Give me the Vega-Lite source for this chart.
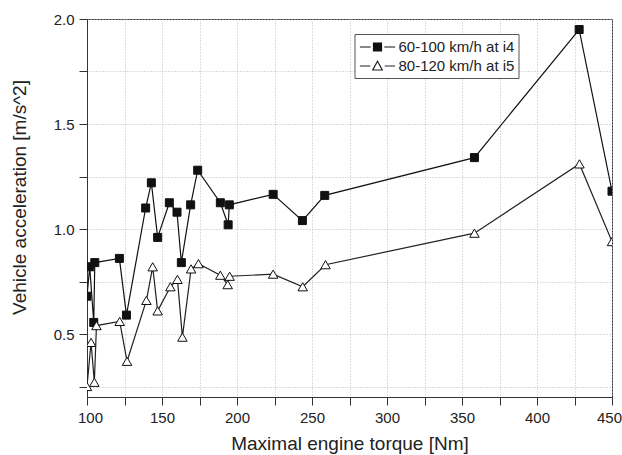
{
  "$schema": "https://vega.github.io/schema/vega-lite/v6.json",
  "width": 525,
  "height": 378,
  "autosize": {"type": "none"},
  "padding": {"left": 87, "top": 19, "right": 10, "bottom": 58},
  "background": "white",
  "config": {
    "font": "Liberation Sans",
    "view": {"stroke": "#333", "strokeWidth": 1},
    "axis": {
      "domainColor": "#333",
      "tickColor": "#333",
      "labelColor": "#222",
      "titleColor": "#222",
      "labelFont": "Liberation Sans",
      "titleFont": "Liberation Sans",
      "labelFontSize": 15,
      "titleFontSize": 19,
      "titleFontWeight": "normal",
      "gridColor": "#bbb",
      "gridDash": [1, 2],
      "gridWidth": 1,
      "tickSize": 8,
      "labelPadding": 5,
      "labelFlush": false
    }
  },
  "data": {
    "values": [
      {"series": "60-100 km/h at i4", "torque": 100, "accel": 0.68},
      {"series": "60-100 km/h at i4", "torque": 101.8, "accel": 0.82},
      {"series": "60-100 km/h at i4", "torque": 104.5, "accel": 0.555},
      {"series": "60-100 km/h at i4", "torque": 105.2, "accel": 0.84},
      {"series": "60-100 km/h at i4", "torque": 121.6, "accel": 0.86},
      {"series": "60-100 km/h at i4", "torque": 126.3, "accel": 0.59},
      {"series": "60-100 km/h at i4", "torque": 139.1, "accel": 1.10},
      {"series": "60-100 km/h at i4", "torque": 142.9, "accel": 1.22},
      {"series": "60-100 km/h at i4", "torque": 147.1, "accel": 0.96},
      {"series": "60-100 km/h at i4", "torque": 154.9, "accel": 1.125},
      {"series": "60-100 km/h at i4", "torque": 160.0, "accel": 1.08},
      {"series": "60-100 km/h at i4", "torque": 162.9, "accel": 0.84},
      {"series": "60-100 km/h at i4", "torque": 169.1, "accel": 1.115},
      {"series": "60-100 km/h at i4", "torque": 173.8, "accel": 1.28},
      {"series": "60-100 km/h at i4", "torque": 188.9, "accel": 1.125},
      {"series": "60-100 km/h at i4", "torque": 194.1, "accel": 1.02},
      {"series": "60-100 km/h at i4", "torque": 194.9, "accel": 1.115},
      {"series": "60-100 km/h at i4", "torque": 224.1, "accel": 1.165},
      {"series": "60-100 km/h at i4", "torque": 243.6, "accel": 1.04},
      {"series": "60-100 km/h at i4", "torque": 258.5, "accel": 1.16},
      {"series": "60-100 km/h at i4", "torque": 358.3, "accel": 1.34},
      {"series": "60-100 km/h at i4", "torque": 428.1, "accel": 1.95},
      {"series": "60-100 km/h at i4", "torque": 450, "accel": 1.18},
      {"series": "80-120 km/h at i5", "torque": 100, "accel": 0.25},
      {"series": "80-120 km/h at i5", "torque": 102.7, "accel": 0.46},
      {"series": "80-120 km/h at i5", "torque": 104.9, "accel": 0.27},
      {"series": "80-120 km/h at i5", "torque": 106.3, "accel": 0.54},
      {"series": "80-120 km/h at i5", "torque": 121.8, "accel": 0.56},
      {"series": "80-120 km/h at i5", "torque": 126.7, "accel": 0.37},
      {"series": "80-120 km/h at i5", "torque": 139.6, "accel": 0.66},
      {"series": "80-120 km/h at i5", "torque": 143.8, "accel": 0.82},
      {"series": "80-120 km/h at i5", "torque": 147.1, "accel": 0.61},
      {"series": "80-120 km/h at i5", "torque": 155.6, "accel": 0.725},
      {"series": "80-120 km/h at i5", "torque": 160.3, "accel": 0.76},
      {"series": "80-120 km/h at i5", "torque": 163.6, "accel": 0.485},
      {"series": "80-120 km/h at i5", "torque": 169.4, "accel": 0.81},
      {"series": "80-120 km/h at i5", "torque": 174.3, "accel": 0.835},
      {"series": "80-120 km/h at i5", "torque": 188.9, "accel": 0.78},
      {"series": "80-120 km/h at i5", "torque": 193.8, "accel": 0.735},
      {"series": "80-120 km/h at i5", "torque": 195.1, "accel": 0.775},
      {"series": "80-120 km/h at i5", "torque": 224.1, "accel": 0.785},
      {"series": "80-120 km/h at i5", "torque": 243.8, "accel": 0.725},
      {"series": "80-120 km/h at i5", "torque": 259, "accel": 0.83},
      {"series": "80-120 km/h at i5", "torque": 358.3, "accel": 0.98},
      {"series": "80-120 km/h at i5", "torque": 428.3, "accel": 1.31},
      {"series": "80-120 km/h at i5", "torque": 450, "accel": 0.94}
    ]
  },
  "encoding": {
    "x": {
      "field": "torque",
      "type": "quantitative",
      "scale": {"domain": [100, 450], "nice": false, "zero": false, "padding": 0},
      "axis": {
        "title": "Maximal engine torque [Nm]",
        "values": [100, 125, 150, 175, 200, 225, 250, 275, 300, 325, 350, 375, 400, 425, 450],
        "labelExpr": "datum.value % 50 === 0 ? datum.label : ''",
        "labelFlush": true,
        "labelFlushOffset": 9.5,
        "titlePadding": 9,
        "grid": true,
        "encode": {
          "ticks": {"update": {"y2": {"signal": "datum.value % 50 === 0 ? 8 : 4"}}},
          "grid": {"update": {"strokeOpacity": {"signal": "(datum.value % 50 === 0 && datum.value > 100 && datum.value < 450) ? 1 : 0"}}}
        }
      }
    },
    "y": {
      "field": "accel",
      "type": "quantitative",
      "scale": {"domain": [0.2, 2.0], "nice": false, "zero": false, "padding": 0},
      "axis": {
        "title": "Vehicle acceleration [m/s^2]",
        "values": [0.25, 0.5, 0.75, 1.0, 1.25, 1.5, 1.75, 2.0],
        "format": ".1f",
        "labelExpr": "datum.value % 0.5 === 0 ? datum.label : ''",
        "titlePadding": 24,
        "titleY": 178,
        "grid": true,
        "encode": {
          "ticks": {"update": {"x2": {"signal": "datum.value % 0.5 === 0 ? -8 : -4"}}},
          "grid": {"update": {"strokeOpacity": {"signal": "(datum.value % 0.5 === 0 && datum.value < 2) ? 1 : 0"}}}
        }
      }
    }
  },
  "layer": [
    {
      "mark": {"type": "line", "clip": true, "strokeWidth": 1.2},
      "encoding": {
        "color": {
          "field": "series",
          "type": "nominal",
          "scale": {"range": ["#111", "#222"]},
          "legend": {
            "orient": "none",
            "legendX": 267.5,
            "legendY": 15,
            "title": null,
            "labelFont": "Liberation Sans",
            "labelFontSize": 15,
            "labelColor": "#222",
            "symbolSize": 256,
            "symbolOffset": 10,
            "labelOffset": 12,
            "strokeColor": "#555",
            "fillColor": "white",
            "padding": 4,
            "rowPadding": 2,
            "encode": {
              "symbols": {
                "update": {
                  "shape": {"signal": "datum.value == '60-100 km/h at i4' ? 'M-2.2,0H-0.85M-0.5,-0.5H0.5V0.5H-0.5ZM0.85,0H2.2' : 'M-2.2,0H-0.9M0,-0.6L0.6,0.5L-0.6,0.5ZM0.9,0H2.2'"},
                  "fill": {"signal": "datum.value == '60-100 km/h at i4' ? '#111' : 'white'"},
                  "stroke": {"value": "#111"},
                  "strokeWidth": {"value": 1.2},
                  "size": {"value": 256},
                  "opacity": {"value": 1},
                  "fillOpacity": {"value": 1}
                }
              }
            }
          }
        }
      }
    },
    {
      "mark": {"type": "point", "clip": true, "filled": false, "stroke": "#111", "strokeWidth": 1, "opacity": 1, "fillOpacity": 1},
      "encoding": {
        "shape": {"field": "series", "type": "nominal", "scale": {"range": ["square", "triangle-up"]}, "legend": null},
        "fill": {"field": "series", "type": "nominal", "scale": {"range": ["#111", "white"]}, "legend": null},
        "size": {"field": "series", "type": "nominal", "scale": {"range": [64, 90]}, "legend": null}
      }
    }
  ]
}
